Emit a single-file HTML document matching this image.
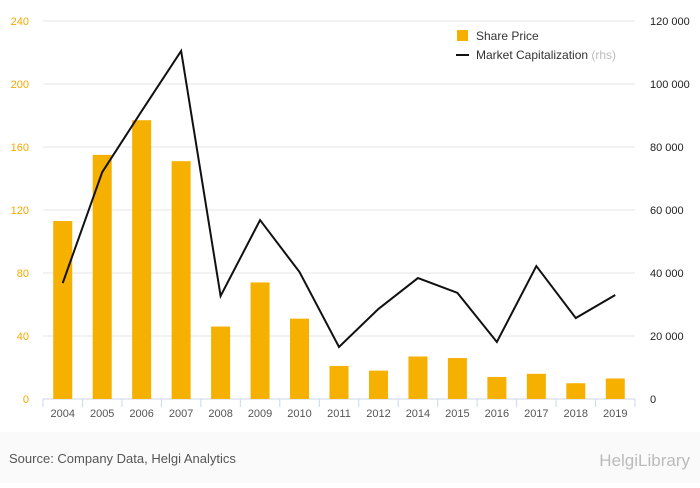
<!DOCTYPE html>
<html><head><meta charset="utf-8"><style>
body{margin:0;background:#fff;font-family:"Liberation Sans",sans-serif;}
svg text{font-family:"Liberation Sans",sans-serif;}
</style></head><body>
<svg id="chart" width="700" height="483">
<rect x="0" y="0" width="700" height="483" fill="#fff"/>
<rect x="0" y="432" width="700" height="51" fill="#fafafa"/>
<text x="9" y="463" font-size="13" fill="#555">Source: Company Data, Helgi Analytics</text>
<text x="690" y="466" font-size="17" fill="#bbb" text-anchor="end">HelgiLibrary</text>
<g id="grid"></g><g id="bars"></g><g id="line"></g><g id="axes"></g>
<g>
<rect x="457" y="30" width="11" height="11" fill="#f5b000"/>
<text x="476" y="40" font-size="12" fill="#333">Share Price</text>
<line x1="456" y1="55" x2="469" y2="55" stroke="#111" stroke-width="2"/>
<text x="476" y="59" font-size="12" fill="#333">Market Capitalization <tspan fill="#bbb">(rhs)</tspan></text>
</g>
</svg>
<script>
const categories=["2004","2005","2006","2007","2008","2009","2010","2011","2012","2014","2015","2016","2017","2018","2019"];
const sharePrice=[113,155,177,151,46,74,51,21,18,27,26,14,16,10,13];
const marketCap=[36800,72000,91400,110500,32700,56800,40300,16500,28600,38400,33700,18100,42200,25700,33000];
const leftTicks=[0,40,80,120,160,200,240];
const rightTicks=[0,20000,40000,60000,80000,100000,120000];
const rightTickLabels=["0","20 000","40 000","60 000","80 000","100 000","120 000"];
const NS="http://www.w3.org/2000/svg";
const x0=43,x1=635,y0=399,yTop=21;
const step=(x1-x0)/categories.length;
const xc=i=>x0+step*(i+0.5);
const yL=v=>y0-(v/240)*(y0-yTop);
const yR=v=>y0-(v/120000)*(y0-yTop);
function mk(tag,attrs,parent,txt){const e=document.createElementNS(NS,tag);for(const k in attrs)e.setAttribute(k,attrs[k]);if(txt!==undefined)e.textContent=txt;document.getElementById(parent).appendChild(e);return e;}
leftTicks.forEach((t,i)=>{
 const g=mk("line",{x1:x0,x2:x1,y1:yL(t),y2:yL(t),stroke:i===0?"#ccd6eb":"#e6e6e6","stroke-width":1},"grid");
 
 
 const l=mk("text",{x:29,y:yL(t)+4,"font-size":11,fill:"#f5a800","text-anchor":"end"},"axes",String(t));
 
 
});
rightTicks.forEach((t,i)=>{
 const l=mk("text",{x:650,y:yR(t)+4,"font-size":11,fill:"#222"},"axes",rightTickLabels[i]);
 
 
});
const tk0=mk("line",{x1:x0,x2:x0,y1:y0,y2:y0+8,stroke:"#ccd6eb"},"axes");


categories.forEach((c,i)=>{
 const b=mk("rect",{x:xc(i)-9.5,y:yL(sharePrice[i]),width:19,height:y0-yL(sharePrice[i]),fill:"#f5b000"},"bars");
 
 
 const tk=mk("line",{x1:x0+step*(i+1),x2:x0+step*(i+1),y1:y0,y2:y0+8,stroke:"#ccd6eb"},"axes");
 
 
 const l=mk("text",{x:xc(i),y:417,"font-size":11,fill:"#555","text-anchor":"middle"},"axes",c);
 
 
});
const pts=marketCap.map((v,i)=>xc(i)+","+yR(v)).join(" ");
const pl=mk("polyline",{points:pts,fill:"none",stroke:"#111","stroke-width":2},"line");


</script>
</body></html>
